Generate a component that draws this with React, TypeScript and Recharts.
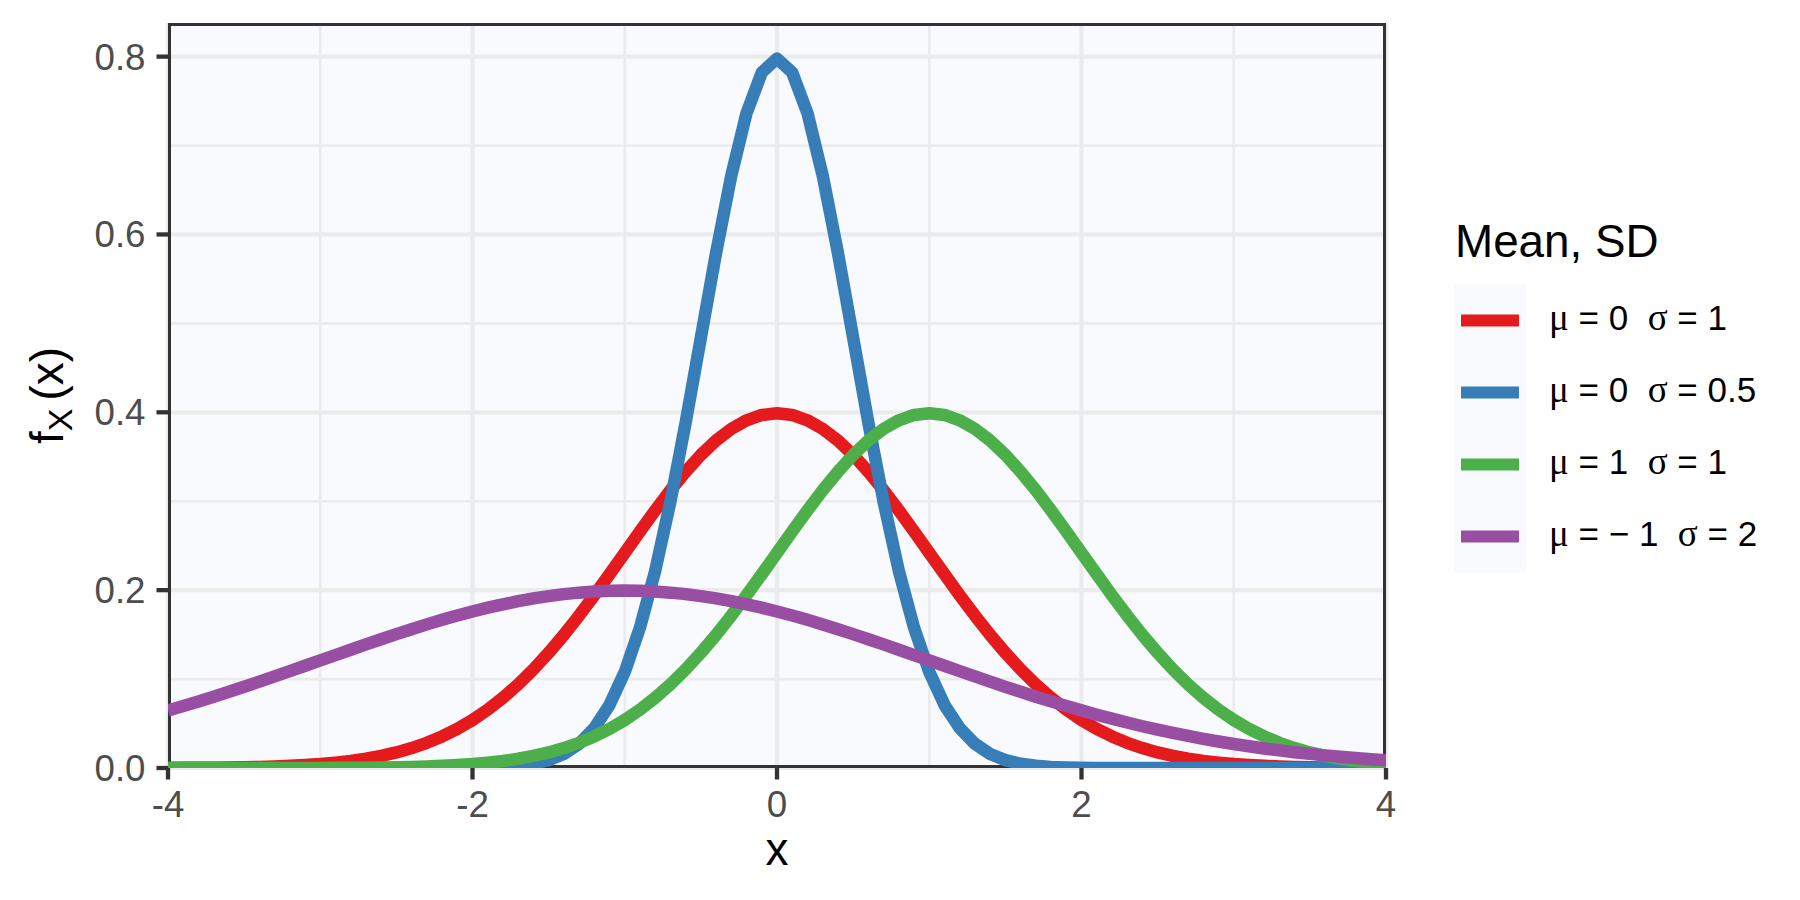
import React from 'react';
import { LineChart, Line, XAxis, YAxis, CartesianGrid, ReferenceArea } from 'recharts';

const FONT = '"Liberation Sans", Arial, Helvetica, sans-serif';
const SERIF = '"Liberation Serif", "DejaVu Serif", serif';
const PANEL = '#F8FAFE';

const xValues = [
  -4.0, -3.9, -3.8, -3.7, -3.6, -3.5, -3.4, -3.3, -3.2, -3.1,
  -3.0, -2.9, -2.8, -2.7, -2.6, -2.5, -2.4, -2.3, -2.2, -2.1,
  -2.0, -1.9, -1.8, -1.7, -1.6, -1.5, -1.4, -1.3, -1.2, -1.1,
  -1.0, -0.9, -0.8, -0.7, -0.6, -0.5, -0.4, -0.3, -0.2, -0.1,
  0.0,
  0.1, 0.2, 0.3, 0.4, 0.5, 0.6, 0.7, 0.8, 0.9, 1.0,
  1.1, 1.2, 1.3, 1.4, 1.5, 1.6, 1.7, 1.8, 1.9, 2.0,
  2.1, 2.2, 2.3, 2.4, 2.5, 2.6, 2.7, 2.8, 2.9, 3.0,
  3.1, 3.2, 3.3, 3.4, 3.5, 3.6, 3.7, 3.8, 3.9, 4.0,
];

// mu = 0, sigma = 1
const densityMu0Sd1 = [
  0.0001, 0.0002, 0.0003, 0.0004, 0.0006, 0.0009, 0.0012, 0.0017, 0.0024, 0.0033,
  0.0044, 0.0060, 0.0079, 0.0104, 0.0136, 0.0175, 0.0224, 0.0283, 0.0355, 0.0440,
  0.0540, 0.0656, 0.0790, 0.0940, 0.1109, 0.1295, 0.1497, 0.1714, 0.1942, 0.2179,
  0.2420, 0.2661, 0.2897, 0.3123, 0.3332, 0.3521, 0.3683, 0.3814, 0.3910, 0.3970,
  0.3989,
  0.3970, 0.3910, 0.3814, 0.3683, 0.3521, 0.3332, 0.3123, 0.2897, 0.2661, 0.2420,
  0.2179, 0.1942, 0.1714, 0.1497, 0.1295, 0.1109, 0.0940, 0.0790, 0.0656, 0.0540,
  0.0440, 0.0355, 0.0283, 0.0224, 0.0175, 0.0136, 0.0104, 0.0079, 0.0060, 0.0044,
  0.0033, 0.0024, 0.0017, 0.0012, 0.0009, 0.0006, 0.0004, 0.0003, 0.0002, 0.0001,
];

// mu = 0, sigma = 0.5
const densityMu0Sd05 = [
  0, 0, 0, 0, 0, 0, 0, 0, 0, 0,
  0, 0, 0, 0, 0, 0, 0, 0, 0, 0.0001,
  0.0003, 0.0006, 0.0012, 0.0025, 0.0048, 0.0089, 0.0158, 0.0272, 0.0448, 0.0709,
  0.1080, 0.1579, 0.2218, 0.2995, 0.3884, 0.4839, 0.5794, 0.6664, 0.7365, 0.7821,
  0.7979,
  0.7821, 0.7365, 0.6664, 0.5794, 0.4839, 0.3884, 0.2995, 0.2218, 0.1579, 0.1080,
  0.0709, 0.0448, 0.0272, 0.0158, 0.0089, 0.0048, 0.0025, 0.0012, 0.0006, 0.0003,
  0.0001, 0, 0, 0, 0, 0, 0, 0, 0, 0,
  0, 0, 0, 0, 0, 0, 0, 0, 0, 0,
];

// mu = 1, sigma = 1
const densityMu1Sd1 = [
  0, 0, 0, 0, 0, 0, 0, 0, 0, 0,
  0.0001, 0.0002, 0.0003, 0.0004, 0.0006, 0.0009, 0.0012, 0.0017, 0.0024, 0.0033,
  0.0044, 0.0060, 0.0079, 0.0104, 0.0136, 0.0175, 0.0224, 0.0283, 0.0355, 0.0440,
  0.0540, 0.0656, 0.0790, 0.0940, 0.1109, 0.1295, 0.1497, 0.1714, 0.1942, 0.2179,
  0.2420, 0.2661, 0.2897, 0.3123, 0.3332, 0.3521, 0.3683, 0.3814, 0.3910, 0.3970,
  0.3989,
  0.3970, 0.3910, 0.3814, 0.3683, 0.3521, 0.3332, 0.3123, 0.2897, 0.2661, 0.2420,
  0.2179, 0.1942, 0.1714, 0.1497, 0.1295, 0.1109, 0.0940, 0.0790, 0.0656, 0.0540,
  0.0440, 0.0355, 0.0283, 0.0224, 0.0175, 0.0136, 0.0104, 0.0079, 0.0060, 0.0044,
];

// mu = -1, sigma = 2
const densityMuM1Sd2 = [
  0.0648, 0.0697, 0.0749, 0.0802, 0.0857, 0.0913, 0.0971, 0.1030, 0.1089, 0.1150,
  0.1210, 0.1270, 0.1330, 0.1390, 0.1448, 0.1506, 0.1561, 0.1615, 0.1666, 0.1715,
  0.1760, 0.1803, 0.1841, 0.1876, 0.1907, 0.1933, 0.1955, 0.1972, 0.1985, 0.1992,
  0.1995,
  0.1992, 0.1985, 0.1972, 0.1955, 0.1933, 0.1907, 0.1876, 0.1841, 0.1803, 0.1760,
  0.1715, 0.1666, 0.1615, 0.1561, 0.1506, 0.1448, 0.1390, 0.1330, 0.1270, 0.1210,
  0.1150, 0.1089, 0.1030, 0.0971, 0.0913, 0.0857, 0.0802, 0.0749, 0.0697, 0.0648,
  0.0600, 0.0555, 0.0511, 0.0470, 0.0431, 0.0395, 0.0361, 0.0328, 0.0298, 0.0270,
  0.0244, 0.0220, 0.0198, 0.0177, 0.0159, 0.0142, 0.0126, 0.0112, 0.0099, 0.0088,
];

const seriesKeys = ['s1', 's2', 's3', 's4'];
const seriesColors = ['#E41A1C', '#377EB8', '#4DAF4A', '#984EA3'];
const muLabels = ['0', '0', '1', '\u2212 1'];
const sigmaLabels = ['1', '0.5', '1', '2'];
const legendTitle = 'Mean, SD';

const xTicks = [-4, -2, 0, 2, 4];
const xMinorTicks = [-3, -1, 1, 3];
const yTicks = [0, 0.2, 0.4, 0.6, 0.8];
const yMinorTicks = [0.1, 0.3, 0.5, 0.7];
const yMax = 0.8378;

const data = xValues.map((x, i) => ({
  x,
  s1: densityMu0Sd1[i],
  s2: densityMu0Sd05[i],
  s3: densityMu1Sd1[i],
  s4: densityMuM1Sd2[i],
}));

const XTitle = (props: any) => {
  const vb = props.viewBox || {};
  const cx = vb.width ? vb.x + vb.width / 2 : 777;
  return (
    <text x={cx} y={865} textAnchor="middle" fontSize={45.8} fill="#000" fontFamily={FONT}>
      x
    </text>
  );
};

const YTitle = (props: any) => {
  const vb = props.viewBox || {};
  const cy = vb.height ? vb.y + vb.height / 2 : 396;
  const cx = 63;
  return (
    <text
      transform={`rotate(-90 ${cx} ${cy})`}
      x={cx}
      y={cy}
      textAnchor="middle"
      fontSize={45.8}
      fill="#000"
      fontFamily={FONT}
    >
      f
      <tspan fontSize={34} dy={9}>X</tspan>
      <tspan dy={-9} dx={8}>(</tspan>
      <tspan>x</tspan>
      <tspan>)</tspan>
    </text>
  );
};

const LegendOverlay = () => {
  const rowY = (i: number) => 320.5 + i * 72;
  return (
    <svg
      width={1800}
      height={900}
      style={{ position: 'absolute', left: 0, top: 0, pointerEvents: 'none' }}
    >
      <text x={1455} y={257} fontSize={45.8} fill="#000" fontFamily={FONT}>
        {legendTitle}
      </text>
      <rect x={1454} y={284.5} width={72} height={288} fill={PANEL} />
      {seriesColors.map((c, i) => (
        <g key={i}>
          <line x1={1461} x2={1519} y1={rowY(i)} y2={rowY(i)} stroke={c} strokeWidth={12} />
          <text
            x={1549}
            y={rowY(i) + 9}
            fontSize={35}
            fill="#000"
            fontFamily={FONT}
            style={{ whiteSpace: 'pre' }}
          >
            <tspan fontFamily={SERIF} fontSize={37}>{'\u03BC'}</tspan>
            <tspan>{' = ' + muLabels[i] + '  '}</tspan>
            <tspan fontFamily={SERIF} fontSize={37}>{'\u03C3'}</tspan>
            <tspan>{' = ' + sigmaLabels[i]}</tspan>
          </text>
        </g>
      ))}
    </svg>
  );
};

export default function App() {
  return (
    <div
      style={{
        position: 'fixed',
        left: 0,
        top: 0,
        width: 1800,
        height: 900,
        background: '#FFFFFF',
        fontFamily: FONT,
      }}
    >
      <LineChart
        width={1800}
        height={900}
        data={data}
        margin={{ top: 23, right: 414, bottom: 0, left: 0 }}
      >
        <CartesianGrid
          fill={PANEL}
          stroke="#EBEBEB"
          strokeWidth={2.6}
          horizontalValues={yMinorTicks}
          verticalValues={xMinorTicks}
        />
        <CartesianGrid
          stroke="#EBEBEB"
          strokeWidth={4.2}
          horizontalValues={yTicks}
          verticalValues={xTicks}
        />
        <XAxis
          type="number"
          dataKey="x"
          domain={[-4, 4]}
          ticks={xTicks}
          interval={0}
          allowDataOverflow
          height={132}
          tickSize={11.5}
          tickMargin={11}
          axisLine={false}
          tickLine={{ stroke: '#333333', strokeWidth: 4.3 }}
          tick={{ fill: '#4D4D4D', fontSize: 36.7, fontFamily: FONT }}
          label={(p: any) => <XTitle {...p} />}
        />
        <YAxis
          type="number"
          domain={[0, yMax]}
          ticks={yTicks}
          interval={0}
          allowDataOverflow
          width={168}
          tickSize={11.5}
          tickMargin={11}
          axisLine={false}
          tickLine={{ stroke: '#333333', strokeWidth: 4.3 }}
          tick={{ fill: '#4D4D4D', fontSize: 36.7, fontFamily: FONT }}
          tickFormatter={(v: number) => v.toFixed(1)}
          label={(p: any) => <YTitle {...p} />}
        />
        {seriesKeys.map((k, i) => (
          <Line
            key={k}
            type="linear"
            dataKey={k}
            stroke={seriesColors[i]}
            strokeWidth={12.5}
            strokeLinejoin="round"
            strokeLinecap="butt"
            dot={false}
            activeDot={false}
            isAnimationActive={false}
          />
        ))}
        <ReferenceArea
          x1={-4}
          x2={4}
          y1={0}
          y2={yMax}
          fill="none"
          fillOpacity={0}
          stroke="#333333"
          strokeWidth={6}
          ifOverflow="hidden"
        />
      </LineChart>
      <LegendOverlay />
    </div>
  );
}
